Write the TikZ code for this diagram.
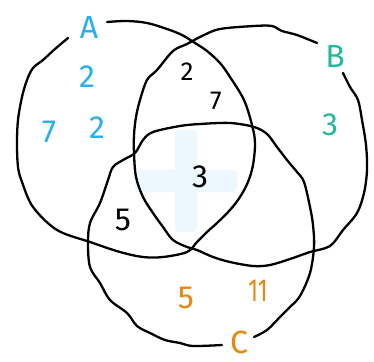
\documentclass[tikz,border=0pt]{standalone}
\usepackage{fontspec}
\setmainfont{Fira Sans}
\definecolor{setblue}{RGB}{41,176,240}
\definecolor{setteal}{RGB}{32,186,156}
\definecolor{setorange}{RGB}{232,134,14}
\definecolor{crossblue}{RGB}{236,248,254}
\tikzset{
  setline/.style={line width=2.3pt, line cap=round, line join=round, black},
  lbl/.style={inner sep=0pt, font=\fontsize{32}{34}\selectfont},
  smalllbl/.style={inner sep=0pt, font=\fontsize{26}{28}\selectfont},
}
\begin{document}
\begin{tikzpicture}[x=1pt,y=-1pt]
\useasboundingbox[fill=white] (0,0) rectangle (374,361);
% faint background cross
\fill[crossblue, rounded corners=4pt] (175,130) rectangle (197,232);
\fill[crossblue, rounded corners=4pt] (135,170) rectangle (237,192);
% circle A
\draw[setline] plot[smooth, tension=0.55] coordinates {
 (68,38) (55,49) (43,60) (33,68) (27,80) (22,97) (18,120) (17,143) (18,167) (22,182)
 (33,207) (57,230) (90,242) (120,252) (143,257) (163,257) (187,252) (197,242)
 (207,232) (217,223) (230,210) (240,197) (248,182) (253,165) (255,143) (252,125)
 (244,100) (230,77) (220,63) (207,51) (195,43) (182,35) (167,29) (147,23) (127,21) (107,22)};
% circle B
\draw[setline] plot[smooth, tension=0.55] coordinates {
 (317,43) (297,35) (282,31) (272,26) (254,26) (220,29) (202,36) (187,44) (173,51)
 (157,70) (147,80) (140,100) (136,117) (134,135) (134,153) (136,177) (143,197)
 (153,213) (163,227) (173,240) (187,247) (197,250) (213,257) (230,262) (253,266)
 (270,265) (290,259) (310,252) (330,246) (343,230) (357,213) (364,193) (367,170)
 (366,145) (362,120) (358,100) (350,87) (343,73)};
% circle C
\draw[setline] plot[smooth, tension=0.55] coordinates {
 (254,337) (267,330) (280,317) (290,307) (300,296) (310,273) (314,247) (313,225)
 (310,207) (304,182) (297,172) (287,160) (277,147) (267,134) (254,127) (230,123)
 (200,124) (180,126) (153,132) (143,140) (135,153) (123,160) (113,167) (108,180)
 (100,203) (90,223) (88,243) (90,267) (100,283) (110,300) (127,313) (137,326)
 (150,333) (165,340) (180,343) (193,346) (222,345)};
% labels
\node[lbl, text=setblue]   (labA)  at (89,27)  {A};
\node[lbl, text=setblue]   (a2top) at (87,77)  {2};
\node[lbl, text=setblue]   (a7)    at (49,132) {7};
\node[lbl, text=setblue]   (a2)    at (97,128) {2};
\node[lbl, text=setteal]   (labB)  at (335,56) {B};
\node[lbl, text=setteal]   (b3)    at (330,125){3};
\node[smalllbl]            (ab2)   at (187,72) {2};
\node[smalllbl]            (ab7)   at (216,101){7};
\node[lbl]                 (abc3)  at (200,177){3};
\node[lbl]                 (ac5)   at (123,220){5};
\node[lbl, text=setorange] (c5)    at (186,298){5};
\node[lbl, text=setorange, xscale=0.7] (c11) at (258,291){11};
\node[lbl, text=setorange] (labC)  at (239,342){C};
\end{tikzpicture}
\end{document}
